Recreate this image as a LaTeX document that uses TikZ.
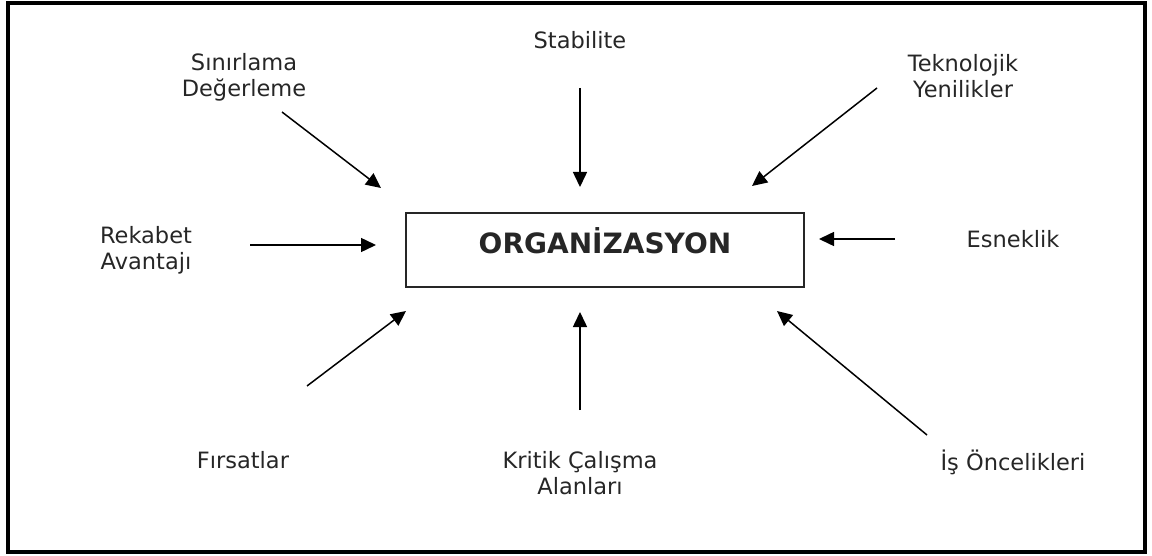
\documentclass[tikz,border=0pt]{standalone}
\usepackage{fontspec}
\setmainfont{DejaVu Sans}
\usetikzlibrary{arrows.meta,positioning}

\begin{document}
\begin{tikzpicture}[x=1pt, y=-1pt, >={Triangle[length=15pt,width=14pt]}, line width=1.5pt]
\tikzstyle{every node}=[text=black!85, align=center, font=\fontsize{22.5}{26}\selectfont]
\tikzstyle{factor}=[inner sep=0pt]
\tikzstyle{center box}=[draw=black!85, line width=1.3pt, minimum width=398pt, minimum height=74pt]
\useasboundingbox (0,0) rectangle (1152,556);
\draw[line width=4pt] (8,3.5) rectangle (1145,552);
% the organisation in the middle
\node[center box] (org) at (605,250) {};
\node (orgtext) at (605,241) {\fontsize{28}{32}\selectfont\bfseries ORGANİZASYON};
% factors around it
\node[factor] (stab) at (580,40)  {Stabilite};
\node[factor] (sinir) at (244,77) {Sınırlama\\Değerleme};
\node[factor] (tekno) at (963,76) {Teknolojik\\Yenilikler};
\node[factor] (rekab) at (146,250) {Rekabet\\Avantajı};
\node[factor] (esnek) at (1013,239) {Esneklik};
\node[factor] (firsat) at (243,460) {Fırsatlar};
\node[factor] (kritik) at (580,473) {Kritik Çalışma\\Alanları};
\node[factor] (oncel) at (1013,462) {İş Öncelikleri};
% arrow ends
\coordinate (stabA) at (580,88);  \coordinate (stabB) at (580,187);
\coordinate (sinirA) at (282,112); \coordinate (sinirB) at (381,188);
\coordinate (teknoA) at (877,88); \coordinate (teknoB) at (752,186);
\coordinate (rekabA) at (250,245); \coordinate (rekabB) at (376,245);
\coordinate (esnekA) at (895,239); \coordinate (esnekB) at (819,239);
\coordinate (firsatA) at (307,386); \coordinate (firsatB) at (406,311);
\coordinate (kritikA) at (580,410); \coordinate (kritikB) at (580,312);
\coordinate (oncelA) at (927,435); \coordinate (oncelB) at (777,311);
\path[->]
(stabA)   edge (stabB)
(sinirA)  edge (sinirB)
(teknoA)  edge (teknoB)
(rekabA)  edge (rekabB)
(esnekA)  edge (esnekB)
(firsatA) edge (firsatB)
(kritikA) edge (kritikB)
(oncelA)  edge (oncelB);
\end{tikzpicture}
\end{document}
